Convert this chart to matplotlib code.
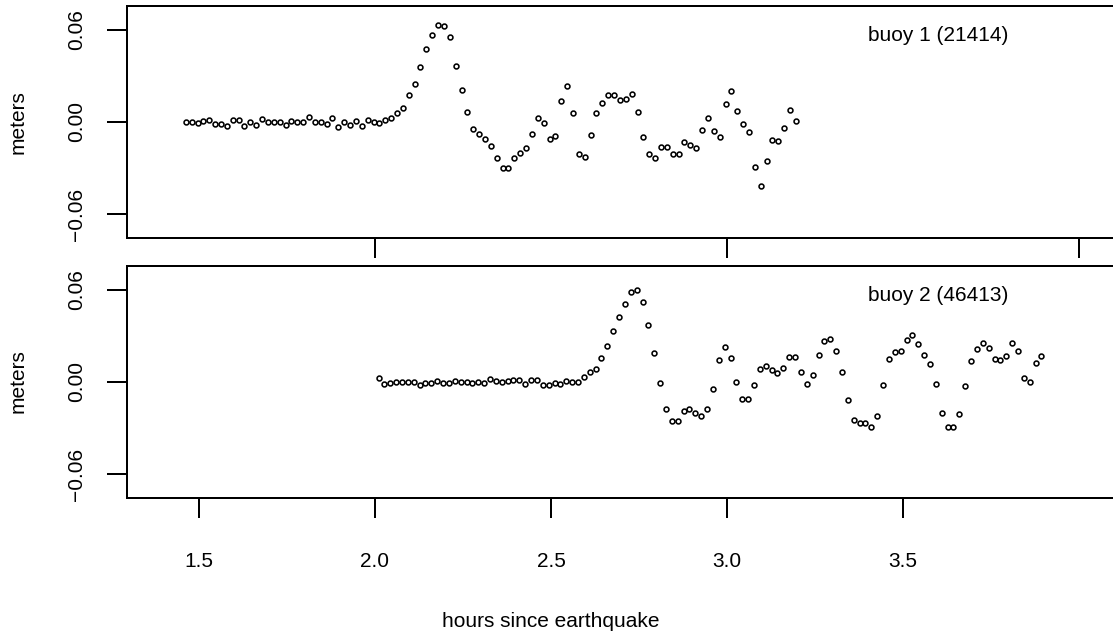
import numpy as np
import matplotlib
matplotlib.use("Agg")
import matplotlib.pyplot as plt

plt.rcParams['font.family'] = ['Liberation Sans', 'DejaVu Sans']

# ---- data (meters), one sample per minute ----
buoy1_label = "buoy 1 (21414)"
buoy2_label = "buoy 2 (46413)"
buoy1_start_hours = 1.4625
buoy2_start_hours = 2.010
sample_step_hours = 1 / 60

buoy1_values = [
    0, 0, -0.0007, 0.0007, 0.001, -0.001, -0.0015, -0.0024, 0.001, 0.0013,
    -0.0026, 0, -0.002, 0.002, 0, 0, 0, -0.002, 0.0007, 0,
    0, 0.0033, 0, 0, -0.001, 0.0024, -0.0035, 0, -0.0017, 0.0004,
    -0.0024, 0.001, 0, -0.0007, 0.001, 0.0028, 0.006, 0.0093, 0.0178, 0.025,
    0.036, 0.0476, 0.057, 0.0633, 0.0626, 0.0557, 0.0367, 0.0211, 0.0063, -0.0043,
    -0.008, -0.0109, -0.0157, -0.0235, -0.030, -0.030, -0.0237, -0.0204, -0.017, -0.0078,
    0.0024, -0.0004, -0.0111, -0.0089, 0.0135, 0.0237, 0.0061, -0.0209, -0.0226, -0.0083,
    0.0059, 0.0122, 0.0174, 0.0178, 0.0141, 0.0152, 0.0185, 0.0067, -0.010, -0.0209,
    -0.0235, -0.0163, -0.0161, -0.0209, -0.0207, -0.0133, -0.015, -0.0167, -0.0054, 0.0028,
    -0.0059, -0.0096, 0.0115, 0.020, 0.0072, -0.0015, -0.0063, -0.0291, -0.042, -0.0257,
    -0.0115, -0.0122, -0.0037, 0.0076, 0.0007,
]

buoy2_values = [
    0.0026, -0.0015, -0.0004, -0.0002, -0.0002, -0.0002, 0, -0.002, -0.0007, -0.0004,
    0.0007, -0.0007, -0.0004, 0.0009, 0, 0, -0.0009, 0, -0.0007, 0.0017,
    0.0009, -0.0002, 0.0009, 0.0011, 0.0011, -0.0011, 0.0015, 0.0015, -0.0017, -0.0017,
    -0.0004, -0.0011, 0.0009, 0, 0, 0.003, 0.0063, 0.0085, 0.0157, 0.0237,
    0.0335, 0.0426, 0.0507, 0.0587, 0.0598, 0.052, 0.037, 0.0191, -0.0009, -0.0174,
    -0.0254, -0.0254, -0.0191, -0.0178, -0.020, -0.022, -0.0176, -0.0046, 0.0146, 0.0228,
    0.0159, -0.0002, -0.0111, -0.0111, -0.0017, 0.0083, 0.0104, 0.0076, 0.0057, 0.0093,
    0.0163, 0.0163, 0.0067, -0.0013, 0.0048, 0.0178, 0.027, 0.028, 0.0202, 0.0063,
    -0.0115, -0.0246, -0.0265, -0.0265, -0.0291, -0.0222, -0.0022, 0.0152, 0.0193, 0.0204,
    0.0276, 0.0309, 0.0248, 0.0178, 0.012, -0.0011, -0.020, -0.0296, -0.0296, -0.0207,
    -0.0026, 0.0139, 0.0217, 0.0252, 0.0222, 0.0152, 0.0143, 0.0172, 0.0254, 0.0204,
    0.0028, -0.0002, 0.0126, 0.0167,
]

y_ticks = [-0.06, 0.0, 0.06]
y_tick_labels = ["\u22120.06", "0.00", "0.06"]
top_x_ticks = [2.0, 3.0, 4.0]
bottom_x_ticks = [1.5, 2.0, 2.5, 3.0, 3.5]
bottom_x_tick_labels = ["1.5", "2.0", "2.5", "3.0", "3.5"]

t1 = buoy1_start_hours + sample_step_hours * np.arange(len(buoy1_values))
t2 = buoy2_start_hours + sample_step_hours * np.arange(len(buoy2_values))

# ---- figure ----
W, H = 1113, 631
fig = plt.figure(figsize=(W / 100, H / 100), dpi=100)
fs = 15
lw = 1.44

left_px, right_px = 127, 1125
xlim = (2 - (375 - left_px) / 352, 2 + (right_px - 375) / 352)
ylim = (-0.0756, 0.0756)

def make_ax(top_px, bot_px):
    ax = fig.add_axes([left_px / W, 1 - bot_px / H, (right_px - left_px) / W, (bot_px - top_px) / H])
    ax.set_xlim(*xlim)
    ax.set_ylim(*ylim)
    for s in ax.spines.values():
        s.set_linewidth(lw)
    ax.tick_params(direction='out', length=14.4, width=lw, labelsize=fs)
    ax.set_yticks(y_ticks)
    ax.set_yticklabels(y_tick_labels, rotation=90, va='center')
    ax.tick_params(axis='y', pad=14.8)
    return ax

ax1 = make_ax(6, 238)
ax2 = make_ax(266, 498)

mk = dict(linestyle='none', marker='o', markersize=3.5, markerfacecolor='none',
          markeredgecolor='black', markeredgewidth=1.15)
ax1.plot(t1, buoy1_values, **mk)
ax2.plot(t2, buoy2_values, **mk)

ax1.set_xticks(top_x_ticks)
ax1.set_xticklabels([])
ax2.set_xticks(bottom_x_ticks)
ax2.set_xticklabels(bottom_x_tick_labels)
ax2.tick_params(axis='x', pad=24.8)

ax1.text(3.4006, 0.0566, buoy1_label, fontsize=fs, ha='left', va='center')
ax2.text(3.4006, 0.0566, buoy2_label, fontsize=fs, ha='left', va='center')

fig.text(18.5 / W, 1 - 122 / H, "meters", rotation=90, ha='center', va='center', fontsize=fs)
fig.text(18.5 / W, 1 - 381 / H, "meters", rotation=90, ha='center', va='center', fontsize=fs)
fig.text(551 / W, 1 - 627 / H, "hours since earthquake", ha='center', va='baseline', fontsize=fs)

fig.savefig("out.png", dpi=100)
